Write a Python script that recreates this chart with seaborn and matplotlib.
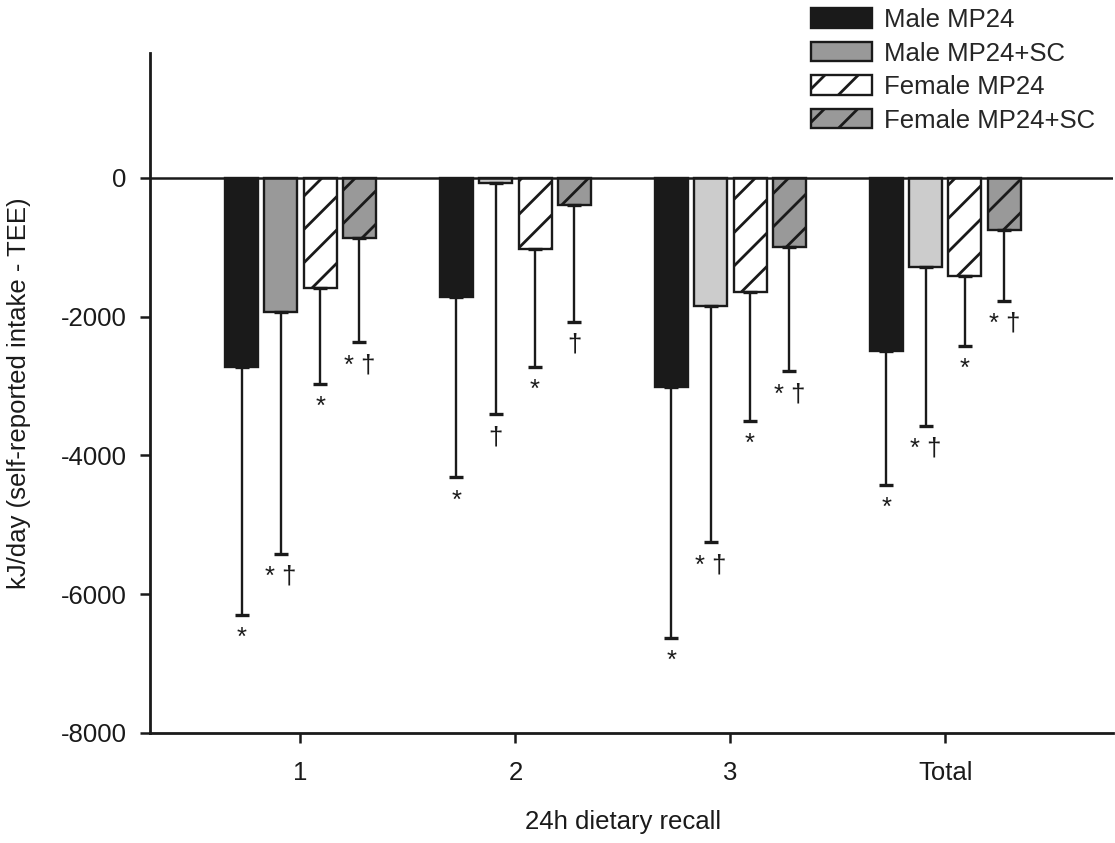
import numpy as np
import pandas as pd
import matplotlib
matplotlib.use("Agg")
import matplotlib.pyplot as plt
import seaborn as sns
from matplotlib.patches import Patch

# ---------------- data ----------------
categories = ["1", "2", "3", "Total"]
groups = ["Male MP24", "Male MP24+SC", "Female MP24", "Female MP24+SC"]

male_mp24 = [-2727, -1720, -3016, -2491]
male_mp24_sc = [-1936, -68, -1841, -1286]
female_mp24 = [-1585, -1031, -1638, -1421]
female_mp24_sc = [-863, -386, -997, -747]

# lower end of the (one-sided) error bars
male_mp24_low = [-6296, -4316, -6624, -4427]
male_mp24_sc_low = [-5419, -3406, -5251, -3575]
female_mp24_low = [-2973, -2728, -3507, -2418]
female_mp24_sc_low = [-2370, -2072, -2785, -1768]

# significance marks under the error bars
sig_male_mp24 = ["*", "*", "*", "*"]
sig_male_mp24_sc = ["* \u2020", "\u2020", "* \u2020", "* \u2020"]
sig_female_mp24 = ["*", "*", "*", "*"]
sig_female_mp24_sc = ["* \u2020", "\u2020", "* \u2020", "* \u2020"]

yticks = [0, -2000, -4000, -6000, -8000]
ytick_labels = ["0", "-2000", "-4000", "-6000", "-8000"]

means = [male_mp24, male_mp24_sc, female_mp24, female_mp24_sc]
lows = [male_mp24_low, male_mp24_sc_low, female_mp24_low, female_mp24_sc_low]
sigs = [sig_male_mp24, sig_male_mp24_sc, sig_female_mp24, sig_female_mp24_sc]

df = pd.DataFrame(
    [{"recall": c, "group": g, "value": means[gi][ci]}
     for gi, g in enumerate(groups) for ci, c in enumerate(categories)]
)

# ---------------- style ----------------
face_colors = [
    ["#1a1a1a"] * 4,
    ["#999999", "#cccccc", "#cccccc", "#cccccc"],
    ["#ffffff"] * 4,
    ["#999999"] * 4,
]
hatches = [None, None, "/", "/"]
legend_colors = ["#1a1a1a", "#999999", "#ffffff", "#999999"]

sns.set_theme(style="ticks")
plt.rcParams["font.family"] = ["Liberation Sans", "DejaVu Sans"]
plt.rcParams["axes.unicode_minus"] = False
plt.rcParams["hatch.linewidth"] = 2.0
plt.rcParams["hatch.color"] = "#1a1a1a"
FS = 18.5

fig = plt.figure(figsize=(11.15, 8.43), dpi=100)
ax = fig.add_axes([150 / 1115, 110 / 843, (1113 - 150) / 1115, (733 - 53) / 843])

sns.barplot(
    data=df, x="recall", y="value", hue="group",
    order=categories, hue_order=groups,
    palette=legend_colors, saturation=1,
    width=0.731, gap=0.16, errorbar=None, legend=False,
    edgecolor="#1a1a1a", linewidth=1.7, ax=ax,
)

bar_containers = list(ax.containers)
for gi, cont in enumerate(bar_containers):
    xs = []
    for ci, bar in enumerate(cont):
        bar.set_facecolor(face_colors[gi][ci])
        bar.set_edgecolor("#1a1a1a")
        if hatches[gi]:
            bar.set_hatch(hatches[gi])
        xs.append(bar.get_x() + bar.get_width() / 2)
    m = np.array(means[gi], dtype=float)
    lo = np.array(lows[gi], dtype=float)
    yerr = np.vstack([m - lo, np.zeros_like(m)])
    ax.errorbar(xs, m, yerr=yerr, fmt="none", ecolor="#1a1a1a",
                elinewidth=1.7, capsize=5, capthick=2.4, zorder=1)
    for x, l, s in zip(xs, lo, sigs[gi]):
        ax.annotate(s, xy=(x, l), xytext=(0, -30), textcoords="offset pixels",
                    ha="center", va="baseline", fontsize=FS, color="#1a1a1a")

ax.axhline(0, color="#1a1a1a", lw=1.8, zorder=3)

ax.set_xlim(-0.70, 3.78)
ax.set_ylim(-8000, 1800)
ax.set_yticks(yticks)
ax.set_yticklabels(ytick_labels)
ax.set_xticks(range(len(categories)))
ax.set_xticklabels(categories)

for side in ["top", "right"]:
    ax.spines[side].set_visible(False)
for side in ["left", "bottom"]:
    ax.spines[side].set_linewidth(2.0)
    ax.spines[side].set_color("#1a1a1a")

ax.tick_params(axis="both", direction="out", length=7, width=1.8,
               colors="#1a1a1a", labelsize=FS, pad=10)
ax.tick_params(axis="x", pad=13.5)

ax.set_xlabel("24h dietary recall", fontsize=FS, color="#1a1a1a")
ax.set_ylabel("kJ/day (self-reported intake - TEE)", fontsize=FS, color="#1a1a1a")
ax.xaxis.set_label_coords(0.491, -0.113)
ax.yaxis.set_label_coords(-0.124, 0.5)

handles = [
    Patch(facecolor=legend_colors[i], edgecolor="#1a1a1a", linewidth=1.7,
          hatch=hatches[i], label=groups[i])
    for i in range(4)
]
fig.legend(handles=handles, loc="upper left",
           bbox_to_anchor=(811 / 1115, 1 - 8 / 843), frameon=False,
           fontsize=FS, handlelength=2.37, handleheight=0.78,
           handletextpad=0.47, labelspacing=0.37, borderpad=0, borderaxespad=0)

fig.savefig("out.png", dpi=100)
